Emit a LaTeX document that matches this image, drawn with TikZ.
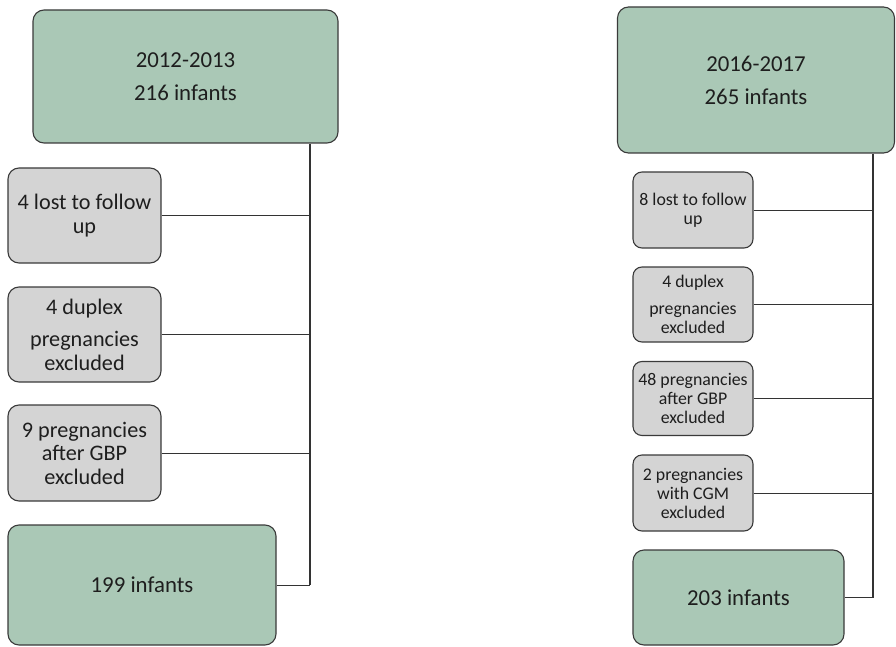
\documentclass[tikz,border=0pt]{standalone}
\usepackage{fontspec}
\setmainfont{Carlito}
\definecolor{boxgreen}{HTML}{AAC8B6}
\definecolor{boxgray}{HTML}{D4D4D4}
\definecolor{edgecol}{HTML}{3A3A3A}
\definecolor{txtcol}{HTML}{1E1E1E}
\definecolor{linecol}{HTML}{333333}
\tikzset{
  base/.style={draw=edgecol, line width=1.1pt, rounded corners=11pt, inner sep=0pt,
    align=center, text=txtcol},
  greenbox/.style={base, fill=boxgreen, font=\fontsize{22.8}{25}\selectfont},
  graybigL/.style={base, fill=boxgray, font=\fontsize{22.2}{23.5}\selectfont},
  graysmR/.style={base, fill=boxgray, rounded corners=9pt, font=\fontsize{17.8}{19}\selectfont},
  trunk/.style={draw=linecol, line width=1.6pt},
  branch/.style={draw=linecol, line width=1pt},
}
\begin{document}
\begin{tikzpicture}[x=1pt, y=-1pt]
\useasboundingbox (0,0) rectangle (896,647);
% left column
\node[greenbox, minimum width=305pt, minimum height=133pt] (topL) at (185.5,76.5)
  {2012-2013\\[8pt]216 infants};
\node[graybigL, minimum width=153pt, minimum height=95pt] (lostL) at (84.5,215.5)
  {4 lost to follow\\up};
\node[graybigL, minimum width=153pt, minimum height=95pt] (dupL) at (84.5,334.5)
  {4 duplex\\[9pt]pregnancies\\excluded};
\node[graybigL, minimum width=153pt, minimum height=96pt] (gbpL) at (84.5,453)
  {9 pregnancies\\after GBP\\excluded};
\node[greenbox, minimum width=268pt, minimum height=120pt] (endL) at (142,585)
  {199 infants};
\coordinate (vL) at (310,0);
\draw[trunk] (topL.south -| vL) -- (endL.east -| vL);
\draw[branch] (endL.east) -- (endL.east -| vL);
\draw[branch] (lostL.east) -- (lostL.east -| vL);
\draw[branch] (dupL.east) -- (dupL.east -| vL);
\draw[branch] (gbpL.east) -- (gbpL.east -| vL);
% right column
\node[greenbox, minimum width=277pt, minimum height=146pt] (topR) at (756,80)
  {2016-2017\\[8pt]265 infants};
\node[graysmR, minimum width=120pt, minimum height=76pt] (lostR) at (693,210)
  {8 lost to follow\\up};
\node[graysmR, minimum width=120pt, minimum height=75pt] (dupR) at (693,304.5)
  {4 duplex\\[8pt]pregnancies\\excluded};
\node[graysmR, minimum width=120pt, minimum height=74pt] (gbpR) at (693,398.5)
  {48 pregnancies\\after GBP\\excluded};
\node[graysmR, minimum width=120pt, minimum height=76pt] (cgmR) at (693,493)
  {2 pregnancies\\with CGM\\excluded};
\node[greenbox, minimum width=211pt, minimum height=95pt] (endR) at (738.5,597.5)
  {203 infants};
\coordinate (vR) at (873,0);
\draw[trunk] (topR.south -| vR) -- (endR.east -| vR);
\draw[branch] (endR.east) -- (endR.east -| vR);
\draw[branch] (lostR.east) -- (lostR.east -| vR);
\draw[branch] (dupR.east) -- (dupR.east -| vR);
\draw[branch] (gbpR.east) -- (gbpR.east -| vR);
\draw[branch] (cgmR.east) -- (cgmR.east -| vR);
\end{tikzpicture}
\end{document}
